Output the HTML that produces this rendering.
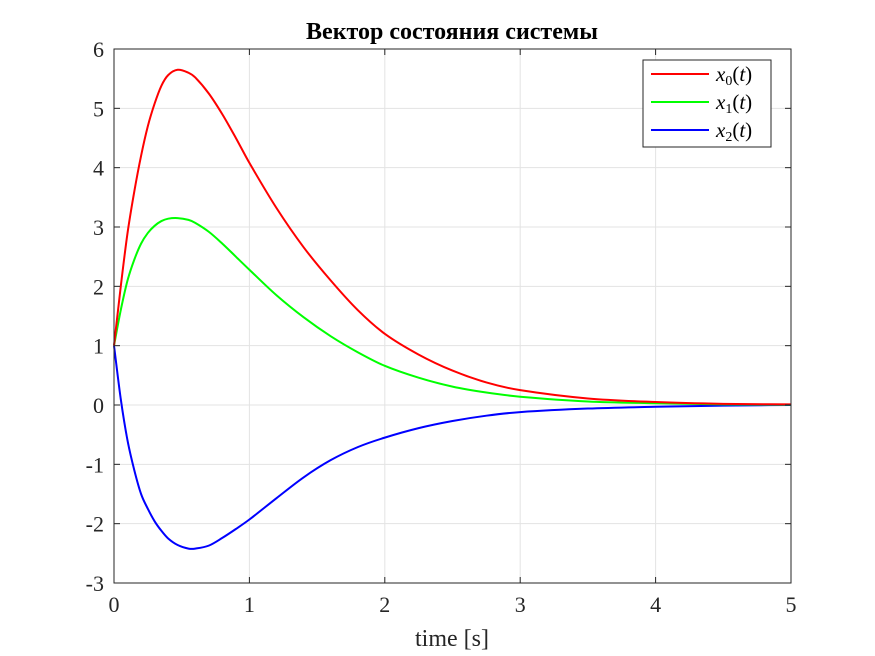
<!DOCTYPE html>
<html><head><meta charset="utf-8"><style>
body{margin:0;background:#fff}
svg{display:block;font-family:"Liberation Serif",serif}
</style></head><body>
<svg id="chart" width="875" height="656" viewBox="0 0 875 656">
<rect width="875" height="656" fill="#fff"/>
<g id="grid"></g>
<g id="series"></g>
<rect x="114" y="49" width="677" height="534" fill="none" stroke="#262626" stroke-width="1"/>
<g id="ticks"></g>
<text x="452" y="39" text-anchor="middle" font-size="24" font-weight="bold">Вектор состояния системы</text>
<text x="452" y="646" text-anchor="middle" font-size="24" fill="#262626">time [s]</text>
<g>
<rect x="643" y="60" width="128" height="87" fill="#fff" stroke="#262626"/>
<g><line x1="651" y1="74" x2="709" y2="74" stroke="#f00" stroke-width="2"/><text x="716" y="81" font-size="21" font-style="italic">x<tspan font-size="14" font-style="normal" dy="4">0</tspan><tspan dy="-4" font-style="normal">(</tspan>t<tspan font-style="normal">)</tspan></text></g>
<g><line x1="651" y1="102" x2="709" y2="102" stroke="#0f0" stroke-width="2"/><text x="716" y="109" font-size="21" font-style="italic">x<tspan font-size="14" font-style="normal" dy="4">1</tspan><tspan dy="-4" font-style="normal">(</tspan>t<tspan font-style="normal">)</tspan></text></g>
<g><line x1="651" y1="130" x2="709" y2="130" stroke="#00f" stroke-width="2"/><text x="716" y="137" font-size="21" font-style="italic">x<tspan font-size="14" font-style="normal" dy="4">2</tspan><tspan dy="-4" font-style="normal">(</tspan>t<tspan font-style="normal">)</tspan></text></g>
</g>
</svg>
<script>
const times=[0,0.05,0.1,0.15,0.2,0.25,0.3,0.35,0.4,0.47,0.55,0.6,0.7,0.8,0.9,1.0,1.2,1.4,1.6,1.8,2.0,2.25,2.5,2.75,3,3.5,4,4.5,5];
const x0Values=[1,2.0,2.9,3.6,4.2,4.7,5.08,5.38,5.56,5.65,5.6,5.52,5.25,4.9,4.5,4.08,3.32,2.66,2.1,1.6,1.2,0.85,0.58,0.38,0.25,0.11,0.05,0.02,0.01];
const x1Values=[1,1.6,2.1,2.45,2.72,2.9,3.02,3.1,3.14,3.15,3.12,3.07,2.92,2.72,2.5,2.28,1.85,1.48,1.16,0.89,0.66,0.46,0.31,0.21,0.14,0.06,0.03,0.01,0.005];
const x2Values=[1,0.1,-0.6,-1.1,-1.5,-1.75,-1.96,-2.12,-2.25,-2.36,-2.42,-2.42,-2.37,-2.24,-2.09,-1.93,-1.57,-1.22,-0.93,-0.71,-0.55,-0.39,-0.27,-0.18,-0.12,-0.06,-0.03,-0.01,0];
const xTicks=[0,1,2,3,4,5];
const yTicks=[-3,-2,-1,0,1,2,3,4,5,6];
const NS="http://www.w3.org/2000/svg";
const X=t=>114+t*(677/5);
const Y=v=>583-(v+3)*(534/9);
function mk(tag,attrs,parent){const e=document.createElementNS(NS,tag);for(const k in attrs)e.setAttribute(k,attrs[k]);parent.appendChild(e);return e;}
const grid=document.getElementById('grid'),ticks=document.getElementById('ticks'),series=document.getElementById('series');
xTicks.forEach(t=>{
 const g=mk('line',{x1:X(t),x2:X(t),y1:49,y2:583,stroke:'#e3e3e3'},grid);
 
 
 mk('line',{x1:X(t),x2:X(t),y1:583,y2:577,stroke:'#262626'},ticks);
 mk('line',{x1:X(t),x2:X(t),y1:49,y2:55,stroke:'#262626'},ticks);
 const l=mk('text',{x:X(t),y:612,'text-anchor':'middle','font-size':22,fill:'#262626'},ticks);
 l.textContent=t;
 
 
});
yTicks.forEach(v=>{
 const g=mk('line',{x1:114,x2:791,y1:Y(v),y2:Y(v),stroke:'#e3e3e3'},grid);
 
 
 mk('line',{x1:114,x2:120,y1:Y(v),y2:Y(v),stroke:'#262626'},ticks);
 mk('line',{x1:791,x2:785,y1:Y(v),y2:Y(v),stroke:'#262626'},ticks);
 const l=mk('text',{x:104,y:Y(v)+8,'text-anchor':'end','font-size':22,fill:'#262626'},ticks);
 l.textContent=v;
 
 
});
function smoothPath(vals){
 const n=times.length;
 const m=vals.map((v,i)=>{
  const a=Math.max(0,i-1),b=Math.min(n-1,i+1);
  return (vals[b]-vals[a])/(times[b]-times[a]);
 });
 let d='M'+X(times[0])+','+Y(vals[0]);
 for(let i=0;i<n-1;i++){
  const h=times[i+1]-times[i];
  const t1=times[i]+h/3,v1=vals[i]+m[i]*h/3;
  const t2=times[i+1]-h/3,v2=vals[i+1]-m[i+1]*h/3;
  d+=` C${X(t1)},${Y(v1)} ${X(t2)},${Y(v2)} ${X(times[i+1])},${Y(vals[i+1])}`;
 }
 return d;
}
[[x2Values,'#00f','line-x2'],[x1Values,'#0f0','line-x1'],[x0Values,'#f00','line-x0']].forEach(([v,c,n])=>{
 const p=mk('path',{d:smoothPath(v),fill:'none',stroke:c,'stroke-width':2},series);
 
 
});
</script>
</body></html>
